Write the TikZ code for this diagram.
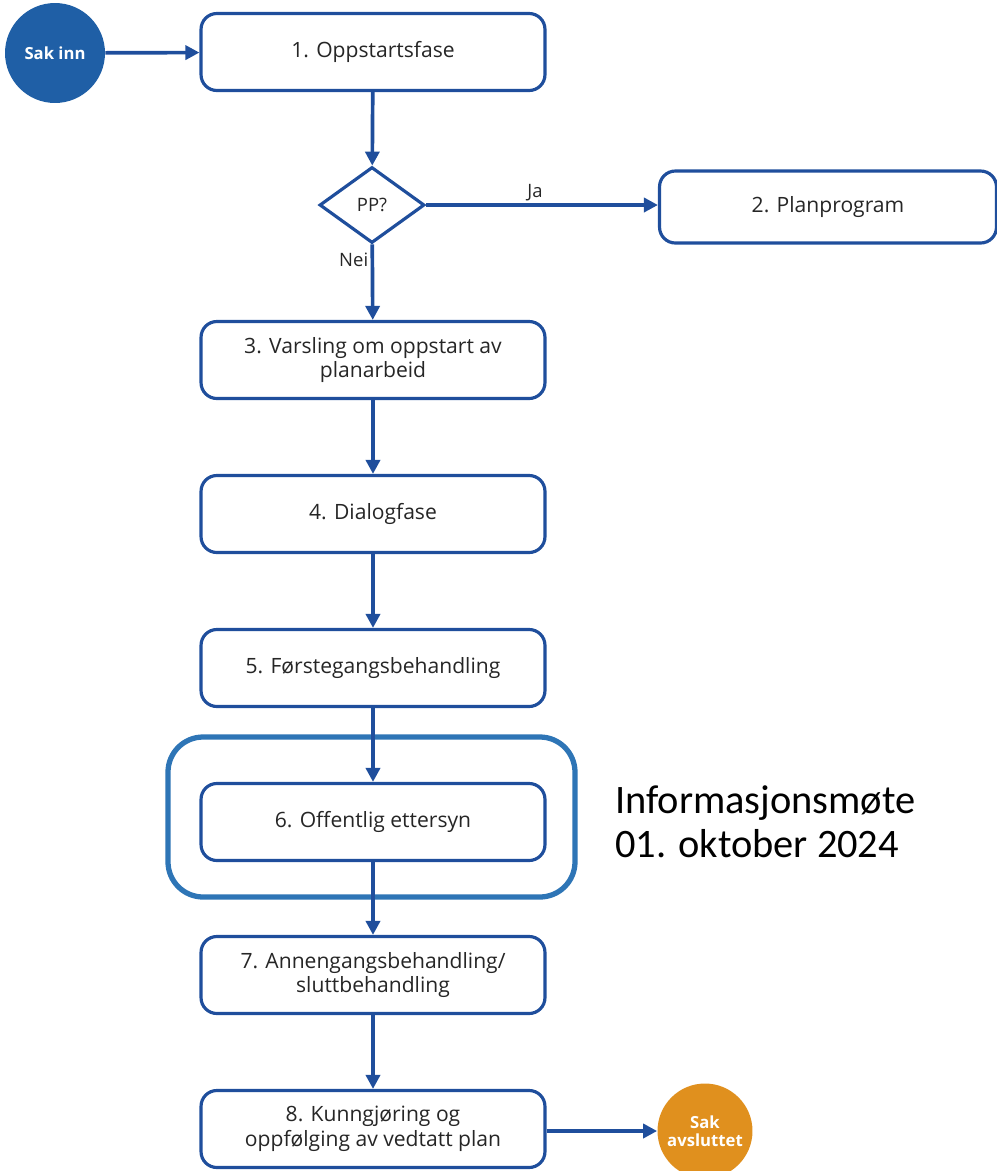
\documentclass[tikz,border=0pt]{standalone}
\usepackage{fontspec}
\setmainfont{Open Sans}
\newfontfamily\infofont{Carlito}
\usetikzlibrary{shapes.geometric,arrows.meta}
\definecolor{lineblue}{HTML}{1F4E9C}
\definecolor{frameblue}{HTML}{2E75B6}
\definecolor{startblue}{HTML}{1F5FA6}
\definecolor{endorange}{HTML}{E0901E}
\tikzset{
  fase/.style={draw=lineblue, line width=1.8pt, rounded corners=9pt, fill=white,
    minimum width=6.88cm, minimum height=1.54cm, align=center,
    font=\fontsize{12}{14}\selectfont, text=black!85},
  valg/.style={draw=lineblue, line width=1.8pt, diamond, fill=white, aspect=1.38,
    minimum width=2.1cm, minimum height=1.52cm, inner sep=0pt,
    font=\fontsize{10.5}{12}\selectfont, text=black!85},
  sak/.style={circle, text=white, minimum size=#1, inner sep=0pt, align=center,
    font=\bfseries\fontsize{9.5}{10.5}\selectfont},
  merk/.style={font=\fontsize{10.5}{12}\selectfont, text=black!85},
  pil/.style={->, draw=lineblue, line width=2.1pt}
}
\begin{document}
\begin{tikzpicture}[x=0.02cm, y=-0.02cm, >={Triangle[length=8pt,width=8pt]}]
    \useasboundingbox (0,0) rectangle (997,1171);
    % markert steg
    \draw[frameblue, line width=3pt, rounded corners=20pt] (168,737) rectangle (575,897);
    \node[anchor=west, align=left, font=\infofont\fontsize{23}{25}\selectfont]
        (Info) at (609,822) {Informasjonsmøte\\01. oktober 2024};

    \node[sak=2cm, fill=startblue] (S_0) at (55,53) {Sak inn};
    \node[fase] (F_1) at (373,52) {1. Oppstartsfase};
    \node[valg] (V_1) at (372,205) {PP?};
    \node[fase, minimum width=6.74cm, minimum height=1.44cm] (F_2) at (828,207) {2. Planprogram};
    \node[fase] (F_3) at (373,360) {3. Varsling om oppstart av\\planarbeid};
    \node[fase] (F_4) at (373,514) {4. Dialogfase};
    \node[fase] (F_5) at (373,668) {5. Førstegangsbehandling};
    \node[fase] (F_6) at (373,822) {6. Offentlig ettersyn};
    \node[fase] (F_7) at (373,975) {7. Annengangsbehandling/\\sluttbehandling};
    \node[fase] (F_8) at (373,1129) {8. Kunngjøring og\\oppfølging av vedtatt plan};
    \node[sak=1.9cm, fill=endorange] (S_9) at (705,1131) {Sak\\avsluttet};

    \begin{scope}[every path/.style={pil}]
        \draw (S_0) -- (F_1);
        \draw (F_1) -- (V_1);
        \draw (V_1) -- node[merk, above, pos=0.47, inner sep=1pt] {Ja} (V_1 -| F_2.west);
        \draw (V_1) -- node[merk, left, pos=0.2, xshift=2pt] {Nei} (F_3);
        \draw (F_3) -- (F_4);
        \draw (F_4) -- (F_5);
        \draw (F_5) -- (F_6);
        \draw (F_6) -- (F_7);
        \draw (F_7) -- (F_8);
        \draw (F_8.east |- S_9) -- (S_9);
    \end{scope}
\end{tikzpicture}
\end{document}
